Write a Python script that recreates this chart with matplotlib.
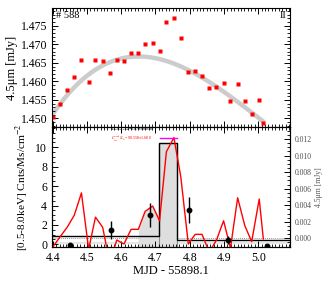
import numpy as np
import matplotlib
matplotlib.use("Agg")
import matplotlib.pyplot as plt
from matplotlib.ticker import MultipleLocator, FixedLocator, FormatStrFormatter

# ---- data ----
mjd = [4.401, 4.421, 4.443, 4.463, 4.484, 4.505, 4.525, 4.546, 4.567, 4.587,
       4.608, 4.629, 4.650, 4.670, 4.692, 4.712, 4.732, 4.754, 4.774, 4.796,
       4.816, 4.836, 4.857, 4.878, 4.899, 4.919, 4.940, 4.961, 4.981, 5.003, 5.015]
flux = [1.4504, 1.4539, 1.4576, 1.4613, 1.4657, 1.4599, 1.4657, 1.4654, 1.4622, 1.4657,
        1.4654, 1.4676, 1.4677, 1.4700, 1.4703, 1.4681, 1.4761, 1.4771, 1.4716, 1.4625,
        1.4628, 1.4615, 1.4581, 1.4584, 1.4596, 1.4548, 1.4594, 1.4546, 1.4512, 1.4549, 1.4488]
# gray model curve
model_x = [4.401, 4.462, 4.525, 4.587, 4.650, 4.712, 4.774, 4.836, 4.898, 4.960, 5.015]
model_y = [1.4513, 1.4581, 1.4635, 1.4657, 1.4666, 1.4662, 1.4639, 1.4608, 1.4576, 1.4531, 1.4491]
resid = [-0.00102, 0.00015, 0.00138, 0.00279, 0.00549, -0.00131, 0.00256, 0.00133, -0.00307, -0.00020,
         -0.00069, 0.00109, 0.00109, 0.00326, 0.00390, 0.00212, 0.01047, 0.01217, 0.00744, -0.00069,
         0.00048, 0.00048, -0.00166, -0.00023, 0.00212, -0.00120, 0.00490, 0.00152, -0.00040, 0.00475, -0.00008]
xray_t = [4.452, 4.569, 4.683, 4.799, 4.912, 5.027]
xray_rate = [-0.10, 1.47, 3.02, 3.54, 0.44, -0.14]
xray_err = [0.0, 0.95, 1.27, 1.37, 0.45, 0.0]
block_edges = [4.398, 4.7097, 4.763, 5.093]
block_rate = [0.88, 10.4, 0.44]
peak_span = [4.712, 4.764]
peak_level = 0.0121
fill_idx = (12, 16)
xlim = (4.398, 5.093)
left_ticks = [0, 2, 4, 6, 8, 10]

plt.rcParams['font.family'] = ['Liberation Serif', 'DejaVu Serif']
plt.rcParams['mathtext.fontset'] = 'stix'

fig = plt.figure(figsize=(3.27, 2.82), dpi=100)
axt = fig.add_axes([0.159, 0.5496, 0.728, 0.4224])
axb = fig.add_axes([0.159, 0.124, 0.728, 0.4256])

# ---- top panel ----
coef = np.polyfit(model_x, model_y, 3)
xs = np.linspace(model_x[0], model_x[-1], 200)
axt.plot(xs, np.polyval(coef, xs), color='0.8', lw=3.2, solid_capstyle='round', zorder=1)
axt.plot(mjd, flux, 's', color='red', ms=2.3, mec='none', zorder=2)
axt.set_xlim(*xlim)
axt.set_ylim(1.4477, 1.4798)
axt.set_ylabel('4.5μm [mJy]', fontsize=9, labelpad=2)
axt.text(0.015, 0.975, '# 588', transform=axt.transAxes, ha='left', va='top', fontsize=7.5)
axt.text(0.985, 0.975, 'II', transform=axt.transAxes, ha='right', va='top', fontsize=7.5)
axt.xaxis.set_major_locator(MultipleLocator(0.1))
axt.xaxis.set_minor_locator(MultipleLocator(0.01))
axt.yaxis.set_major_locator(MultipleLocator(0.005))
axt.yaxis.set_minor_locator(MultipleLocator(0.001))
axt.tick_params(which='both', direction='in', top=True, right=True, labelbottom=False, labelsize=8.5)
axt.tick_params(which='major', length=4, width=0.7)
axt.tick_params(which='minor', length=2, width=0.6)

# ---- bottom panel ----
ax2 = axb.twinx()
ax2.set_ylim(-0.00105, 0.01345)
axb.set_xlim(*xlim)
axb.set_ylim(-0.28, 12.09)

axb.axhspan(0.0, 0.25, color='0.9', lw=0, zorder=0)
axb.plot(xlim, [0.0, 0.0], color='0.45', lw=0.6, ls=(0, (1, 1.5)), transform=ax2.transData, zorder=1)
i0, i1 = fill_idx
axb.fill_between(mjd[i0:i1], resid[i0:i1], -0.01, color='0.87', lw=0,
                 transform=ax2.transData, zorder=1)
axb.fill_between(block_edges[1:3], [block_rate[1]] * 2, -1, color='0.87',
                 edgecolor='0.55', lw=0.8, zorder=1)
axb.stairs(block_rate, block_edges, baseline=None, color='black', lw=1.0, zorder=2)
axb.plot(mjd, resid, color='red', lw=1.0, transform=ax2.transData, zorder=3)
axb.plot(peak_span, [peak_level] * 2, color='magenta', lw=1.0, transform=ax2.transData, zorder=3)
axb.errorbar(xray_t, xray_rate, yerr=xray_err, fmt='o', color='black', ms=3.2,
             elinewidth=1.0, capsize=0, zorder=4)
axb.text(4.569, 11.78, r'$L_{IR}/L_{X,peak}$=0.079±0.018', fontsize=3.0, color='black', va='center')
axb.text(4.569, 10.88, r'$L_{IR}^{peak}/L_{X}$=90.558±1.680', fontsize=3.0, color='red', va='center')
axb.set_xlim(*xlim)
axb.set_ylim(-0.28, 12.09)

axb.set_xlabel('MJD - 55898.1', fontsize=9, labelpad=1)
axb.set_ylabel(r'[0.5-8.0keV] Cnts/Ms/cm$^{-2}$', fontsize=8.1, labelpad=3)
axb.xaxis.set_major_locator(MultipleLocator(0.1))
axb.xaxis.set_minor_locator(MultipleLocator(0.01))
axb.yaxis.set_major_locator(FixedLocator(left_ticks))
axb.yaxis.set_minor_locator(MultipleLocator(0.5))
axb.tick_params(which='both', direction='in', top=True, right=False, labelsize=8.5)
axb.tick_params(which='major', length=4, width=0.7)
axb.tick_params(which='minor', length=2, width=0.6)

ax2.yaxis.set_major_locator(MultipleLocator(0.002))
ax2.yaxis.set_minor_locator(MultipleLocator(0.0005))
ax2.yaxis.set_major_formatter(FormatStrFormatter('%.3f'))
ax2.tick_params(which='both', direction='in', labelsize=5.5, labelcolor='0.3')
ax2.tick_params(which='major', length=4, width=0.7)
ax2.tick_params(which='minor', length=2, width=0.6)
ax2.set_ylabel('4.5μm [mJy]', fontsize=5.5, color='0.35', labelpad=2)

fig.savefig('out.png', dpi=100)
